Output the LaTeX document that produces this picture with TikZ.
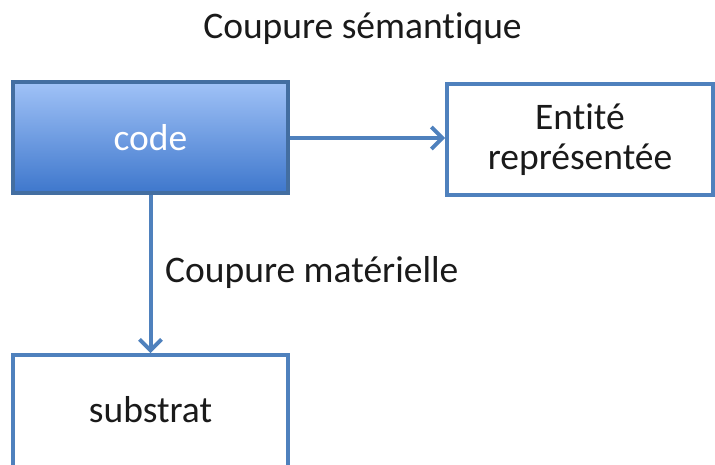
\documentclass[tikz,border=0pt]{standalone}
\usepackage{fontspec}
\setmainfont{Carlito}[Ligatures={NoCommon,NoRequired,NoContextual}]
\usetikzlibrary{arrows.meta}
\definecolor{bordblue}{HTML}{4F81BD}
\definecolor{toplight}{HTML}{A0C2F7}
\definecolor{botdark}{HTML}{3E77CC}
\definecolor{txt}{HTML}{1A1A1A}
\tikzset{
  x=1pt,y=1pt,
  bigfont/.style={font=\fontsize{37.5}{40}\selectfont},
  box/.style={draw=bordblue, line width=3.6pt, fill=white, minimum width=275pt, minimum height=111pt, inner sep=0pt, text=txt, bigfont, align=center},
  codebox/.style={box, draw=bordblue!85!black, top color=toplight, bottom color=botdark, text=white},
  conn/.style={draw=bordblue, line width=4pt, -{Straight Barb[length=11pt,width=22pt,line width=4pt]}},
  lbl/.style={text=txt, bigfont, inner sep=0pt}
}
\begin{document}
\begin{tikzpicture}
\useasboundingbox (0,0) rectangle (715,464);
\node[codebox] (code) at (150.5,326.5) {code};
\node[box, minimum width=266pt] (ent) at (580,324.5) {Entité\\représentée};
\node[box, minimum height=130pt] (sub) at (150.5,44) {};
\node[lbl, anchor=base] (subt) at (150.5,42) {substrat};
\node[lbl, anchor=base] (title) at (362.5,425) {Coupure sémantique};
\node[lbl, anchor=base west] (mat) at (165,182) {Coupure matérielle};
\draw[conn] (code.east |- 0,326) -- (ent.west |- 0,326);
\draw[conn] (code.south) -- (sub.north);
\end{tikzpicture}
\end{document}
